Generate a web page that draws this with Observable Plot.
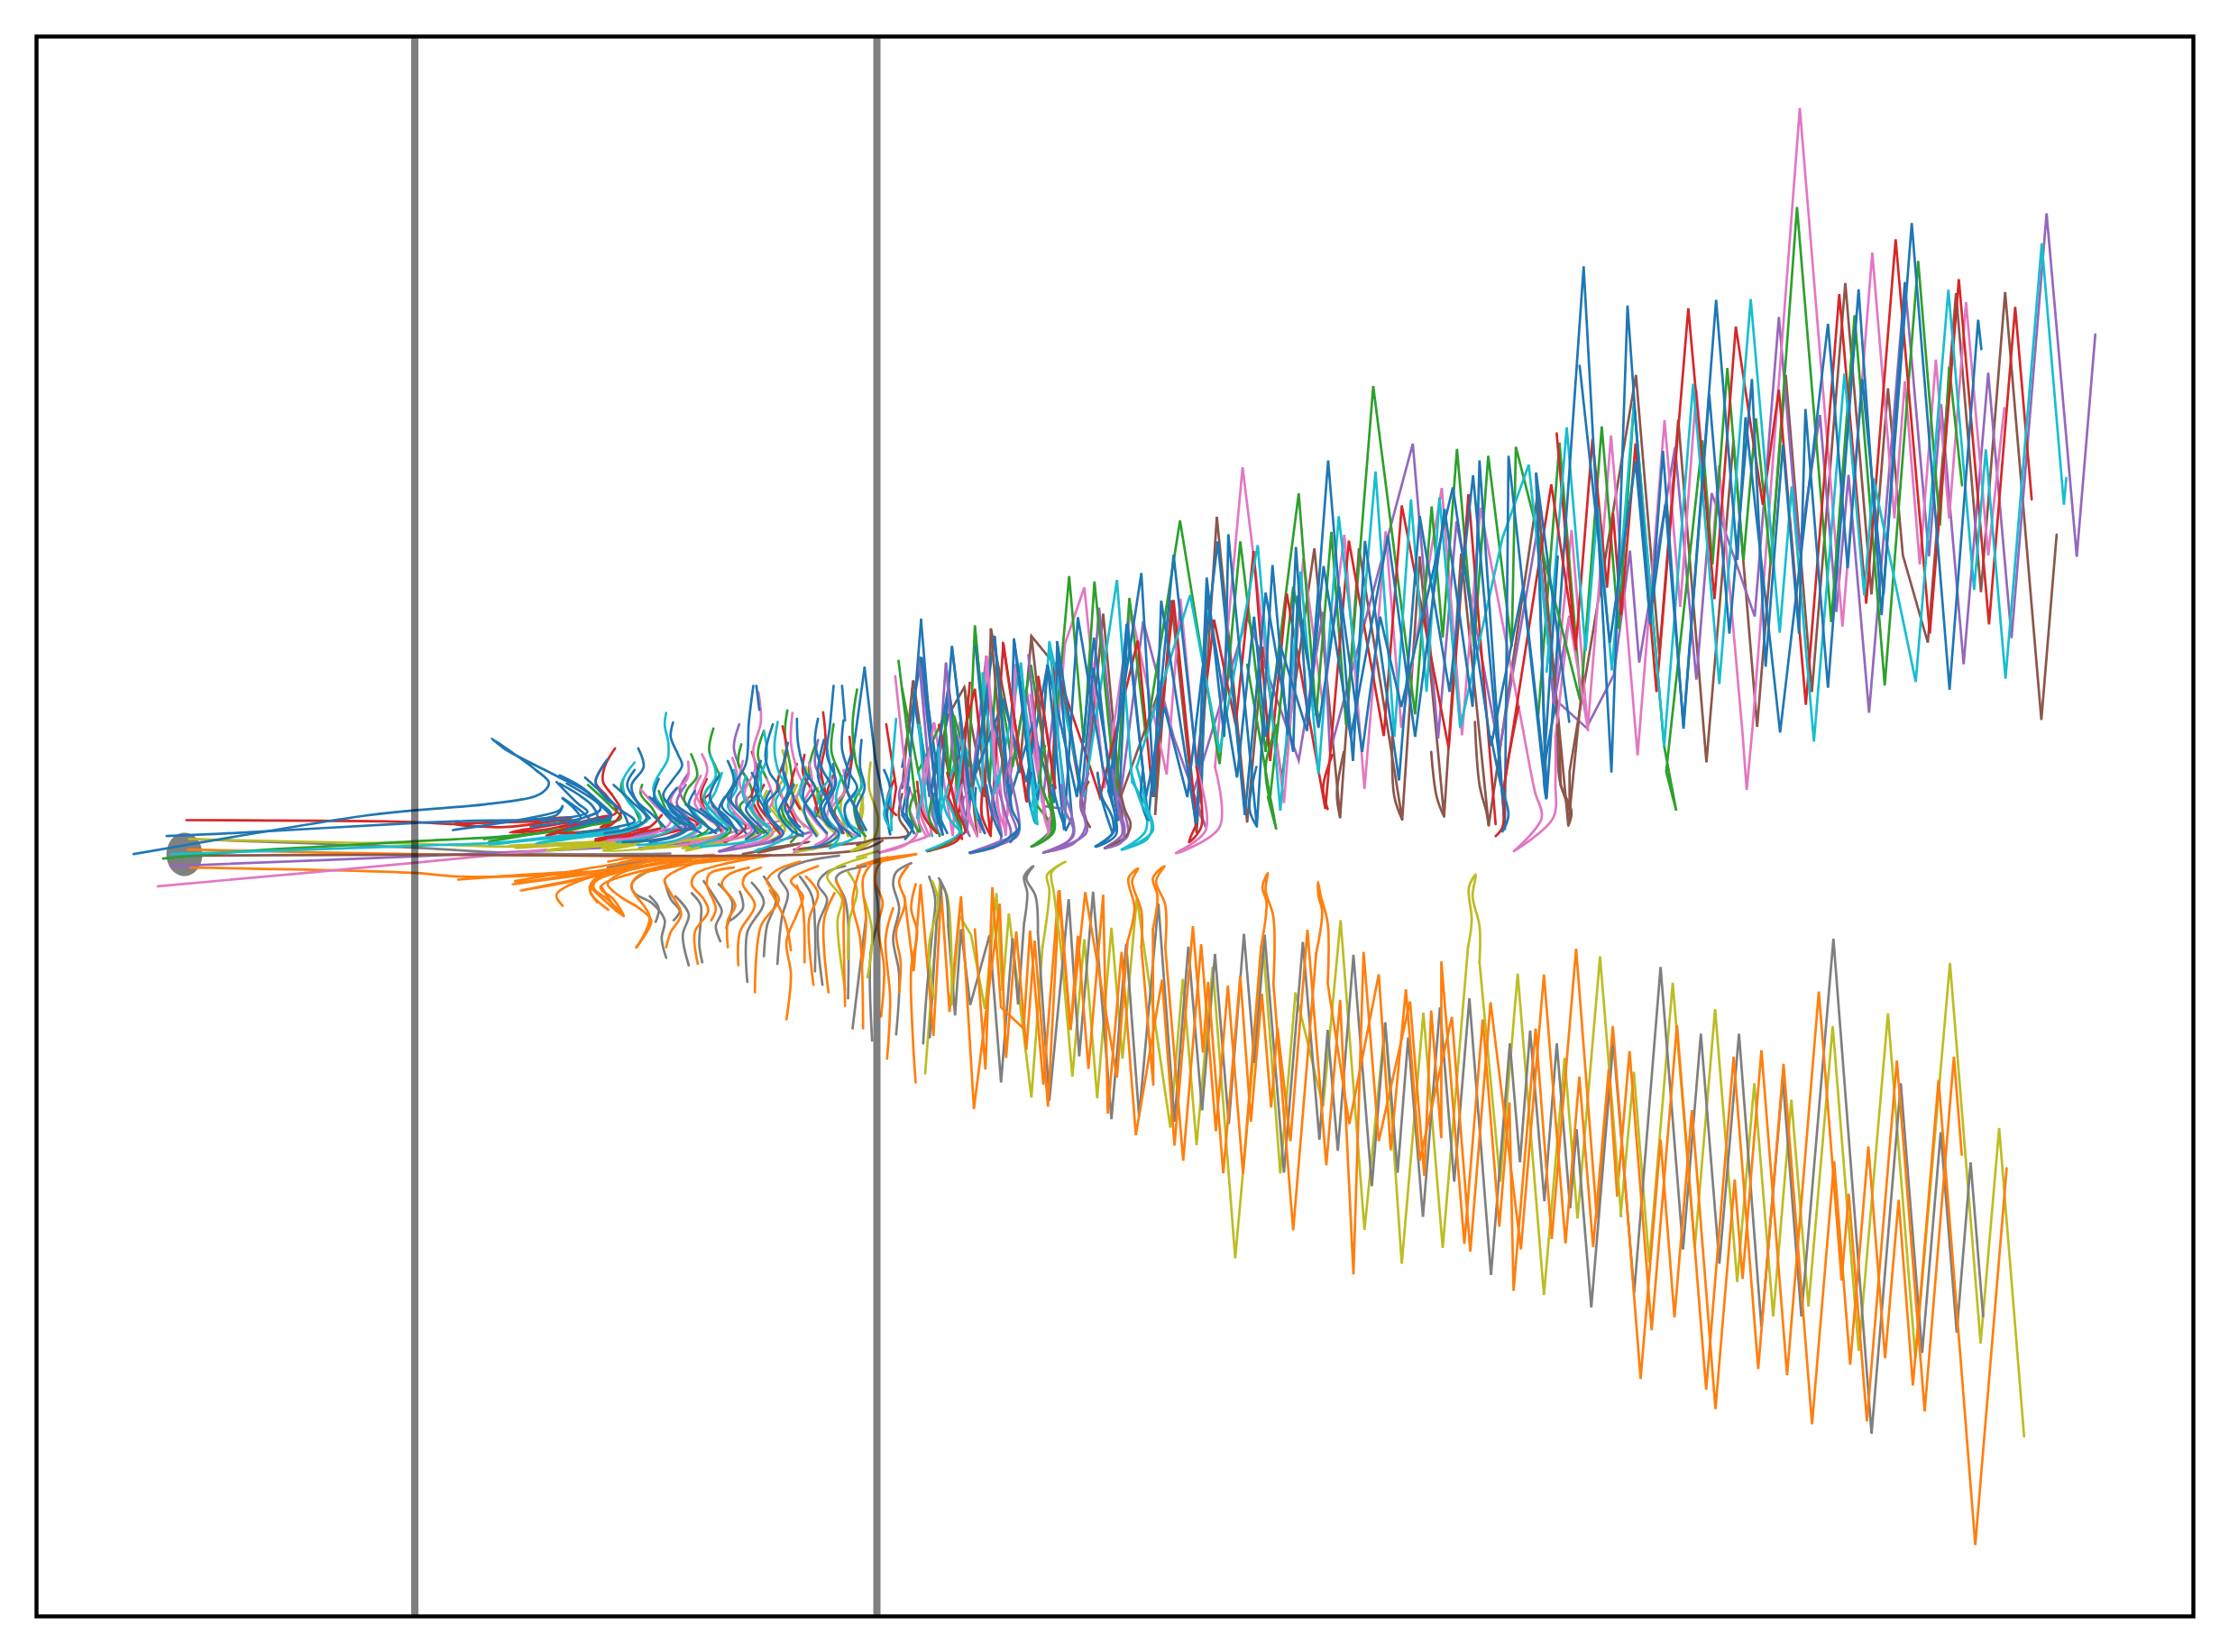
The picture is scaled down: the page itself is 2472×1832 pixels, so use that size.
<!DOCTYPE html>
<html><head><meta charset="utf-8">
<style>html,body{margin:0;padding:0;background:#fff}svg{display:block}</style>
<script src="https://cdn.jsdelivr.net/npm/d3@7"></script>
<script src="https://cdn.jsdelivr.net/npm/@observablehq/plot@0.6"></script>
</head><body><div id="chart"></div>
<script>
// Read-off values: each array holds flat x,y pairs in the units of one reading window.
const windows = {
  a:[100,750,1.742,3], b:[1000,550,1.96,3], c:[1700,100,2.24,1.96], d:[1000,950,1.96,3],
  e:[1700,1000,2.53,2.09], f:[620,760,3,3], g:[620,940,3,3], h:[950,640,3,3],
  i:[950,640,3,3], j:[1000,550,1.96,3], k:[1000,950,1.96,3]
};
const softWindows = new Set(["a","f","g","i","j","k"]);
const dividerValues = [459.5, 972];
const originValue = [[204, 947]];

// far-left tails and nearly flat hairpin bands
const aOlive = [[190,540,500,552,620,555,800,565,1000,555],[810,562,1000,548,820,570,1050,540,880,578,1060,555,990,580,1160,560,1060,572,1230,530,1150,580,1330,500]];
const aGray = [[190,540,620,568,760,582,900,590,1050,590,1120,588],[1000,635,1120,600,1020,622]];
const aOrange = [[188,575,620,590,1050,597,1115,597,1040,603,1000,615],[193,635,620,652,720,665,960,650,1100,610,1240,595,1080,604],[710,675,960,648,815,690,1000,650,830,712,970,665,1090,605,820,680],[912,762,900,725,960,670,1205,592,980,675,965,715,1000,775],[965,700,1030,797,1010,740,985,700,1120,625,1315,592,1060,660,1045,700,1080,800,1055,900]];
const aBrown = [[190,595,620,592,1400,590,1500,570,1530,545],[1260,590,1390,548,1290,585]];
const aPurple = [[155,630,620,598,880,578,1000,568],[1060,570,1160,550],[1215,582,1330,545,1400,512]];
const aPink = [[130,697,620,620,800,590,880,575],[1000,545,1170,490],[1160,550,1330,480]];
const aGreen = [[140,605,300,580,620,548,880,518,1000,470],[760,540,880,515,770,548,1000,480]];
const aCyan = [[155,590,620,563,800,550,1020,505,770,558,1020,515,860,555,1020,510,865,552],[1080,570,1240,500,1090,565]];
const aRed = [[185,477,620,483,700,490,930,468,800,500,700,490,850,482,938,478,810,518,880,508,1000,462,880,528,1005,480,985,500,1003,490],[980,545,1100,505,1000,540]];
const aBlue = [[83,590,530,462,620,445,760,425,860,397,882,370,885,350,860,310,775,205,800,240,900,330,960,385,985,440,950,470,850,498],[147,530,300,518,620,487,720,480,900,460,912,430,905,445,700,510],[900,350,940,420,960,450,870,480],[912,403,950,450,965,475],[920,355,980,420,1005,470,960,490]];

// upper fan, middle stretch
const bBlue = [
 [41,410,78,1090,108,500,150,1010,201,468,232,1040,243,475,295,1010,316,560,352,1110,382,402,436,900],
 [448,980,520,255,548,1000,563,347,640,1100,662,270,700,800,709,126,771,1098,805,228,838,795,856,168,882,760,926,-120,980,880,1006,148,1080,945,1125,65,1190,650,1241,-70,1310,1085],
 [22,640,60,1000,100,640,135,1090,188,660,235,1000,283,760,330,1020,337,482,390,1000,415,570,470,1080,490,420,535,1080,590,195,650,1020,663,330,728,935,765,400,790,800,823,500,880,780,916,232,975,800,1056,130,1115,800,1179,42,1240,700,1255,-120,1310,1110,1318,-135,1400,1005,1378,-78,1450,750],
 [0,900,42,535,85,1010,100,635,140,1000,220,680,270,950,316,560,380,1000,417,470,455,1000,488,425,530,1000,570,700,620,1000,686,150,745,1060,790,320,850,850,860,330,905,770,950,300,1000,850,1039,400,1085,700,1197,-30,1280,830,1350,300,1395,900,1425,200]];
const bPurple = [[38,535,75,1000,95,555,140,1120,183,530,205,950],[235,930,270,640,305,1020,330,700,355,1000],[395,1050,428,370,470,1000],[470,1050,524,415,590,800,660,1100,630,1000,750,400,862,878,915,384,930,850,1110,-175,1165,805,1205,83,1298,850,1381,112,1417,690,1450,400]];
const bPink = [[70,755,110,1130,125,750,170,1120,183,535,225,1130,250,570,320,1120,354,490,396,303,440,970,497,378,575,925,605,340,640,900],[680,900,740,-97,830,1020,872,206,915,700,961,128,1005,973,1051,116,1085,770,1173,-28,1217,795,1257,38,1350,780],[1420,800,1450,400,1491,778]];
const bRed = [[80,760,130,1140],[100,1000,158,640,192,1130,220,487,270,1015,296,600,330,950,330,550,393,830,430,1000,512,480,545,1000,590,345,640,1090],[640,900,678,410,725,760,764,182,800,880,836,323,920,1040,971,147,1047,797,1086,30,1188,838,1231,-7,1290,1090],[1305,1000,1411,-40,1465,510]];
const bGreen = [[0,640,35,915,92,730,103,930,113,730,145,900,158,432,190,950,205,560,240,900,280,560,325,1000],[320,1000,363,265,395,820,418,283,465,1000,494,338,530,800,604,80,690,890,735,150,790,850,862,-10,900,730,933,118,965,760,1024,-367,1115,725,1151,33,1175,470,1206,-158,1243,500,1274,-135,1325,500,1334,-165,1473,675],[750,560,800,1000],[800,1000,850,300,905,735]];
const bBrown = [[25,615,60,1000,100,730,135,635,180,1000,193,440,255,920,281,465,340,575,395,1050,437,390,480,1100,475,1000,565,620,550,1060,585,345,640,1120,684,68,750,1085,785,500,825,940,896,173,952,1068,993,173,1087,1075,1125,200,1178,1065,1215,190,1275,1095,1381,-5,1448,1095,1480,600]];
const bCyan = [[37,760,75,1100,130,800,175,1000,175,585,205,990,258,555,290,1090,320,485,395,1000,467,278,500,950],[510,900,626,328,690,850,773,162,822,1045,866,250,905,925,949,66,990,600,1029,-83,1070,800,1106,10,1140,650,1168,3,1213,770,1305,138,1362,-105,1412,600]];

// upper fan, right end
const cPink = [[50,1340,95,955,135,1388,193,750,259,1445,326,716,365,1122,405,650,443,1025,461,815,520,1400,530,1520,545,1380,662,38,768,1165,842,352,897,930,923,632,960,1030,1000,585,1033,930,1075,460,1130,1010,1170,690]];
const cGreen = [[12,1360,65,765,118,1323,170,730,212,1170,250,680,325,1425,355,1565,330,1480,420,760,445,1030,482,603,522,1020,553,712,590,1030,655,253,740,1155,798,488,873,1293,956,370,1010,945,1033,600,1065,858]];
const cRed = [[58,745,105,1215,147,757,183,1080,198,918,218,1140,254,767,306,1307,385,473,450,1105,503,513,570,900,610,650,677,1335,760,442,827,1115,900,323,985,1180,1057,410,1132,1160,1197,470,1238,888]];
const cBrown = [[10,875,65,1420,68,1510,90,1565,90,1480,255,618,313,1225,360,715,430,1460,497,763,556,1383,627,618,692,1307,775,418,840,1095,881,647,918,1010,980,1200,1050,440,1112,1090,1172,438,1262,1368,1300,965]];
const cCyan = [[33,1263,83,732,130,1218,160,905,195,1260,250,680,325,1425,397,637,462,1290,540,453,612,1178,642,860,697,1415,773,615,822,1097,845,843,950,1285,1031,433,1095,1085,1124,780,1173,1278,1263,332,1318,900,1324,842]];
const cPurple = [[10,955,50,1320,132,1385,200,1270,240,1000,263,1243,352,775,405,1280,443,875,550,1143,610,492,660,1000,712,705,753,1133,783,835,834,1352,923,418,983,1012,1013,682,1069,1247,1130,613,1188,1190,1275,267,1350,1013,1396,530]];
const cBlue = [[7,832,33,1538,125,382,194,1482,234,467,290,1160,322,783,373,1387,437,660,487,1180,543,627,577,1252,620,770,660,1180,676,692,732,1298,808,432,865,1140,940,288,1034,1302,1105,498,1113,562],[115,598,190,1200,254,805,290,1150,328,900,373,1380,454,455,507,1020,527,710,613,1395,732,507,781,1038,817,627,870,1095,923,418]];

// lower fan, middle stretch
const dOlive = [[50,720,82,85],[108,490,125,195,150,260,180,505,205,120,218,445,232,188,281,800,305,300],[345,300,370,730,396,273,424,802,455,235,479,670,510,135,583,900,610,405,640,958,675,365,724,1335,785,300,822,1053,855,450,915,830,953,210,1005,1240,1050,550,1086,1353,1133,518,1175,1300,1230,300],[1255,350,1300,1080,1338,387,1395,1457,1440,668,1468,1203,1517,330,1563,1195]];
const dGray = [[60,600,75,210],[100,230,115,527,128,240,148,492,190,260,215,750,240,270,252,490,265,220],[295,250,320,810,362,140,385,663,415,115,455,872,487,288,515,862,557,155,592,880,622,298,652,843,680,322,710,888,743,255,766,685,788,258,830,1050,871,282,907,940,925,575,947,977,981,325,1021,1095,1050,550,1077,1050,1100,600,1132,1197,1169,500,1200,1080,1233,470,1280,1390,1321,620,1343,1015,1365,577,1396,1145,1423,620,1452,1168,1466,905,1498,1498,1545,630]];
const dOrange = [
 [5,130,25,380,40,90,68,595,85,115,103,515,128,130,156,838,212,155,226,668,248,247,270,640,288,278,317,830,342,110,366,575,382,262,405,705,437,125,447,853,477,315,508,925,565,408,592,960,632,230,654,650,665,415,698,1052,735,395,758,880,782,455,802,833,816,568,844,945,881,242,922,1025,952,475,981,1388,1003,315,1036,945,1104,480,1135,1060,1150,510,1172,935,1172,347,1222,1287,1262,540,1298,1230,1320,816,1329,1443,1377,570,1412,1270,1465,305,1510,1200],
 [158,240,181,706,196,100,215,500,264,570,278,245,307,757,340,112,366,575,398,117,467,733,490,280],[520,300,546,760,545,240],[572,300,611,1010,650,290,682,912,708,428,741,1053,780,300],[807,420,850,1242,900,320],[925,420,972,888,1036,390,1062,975,1095,440,1125,1010,1195,532,1235,1312,1279,483,1345,1305,1395,390,1442,1285,1472,730,1502,1297,1536,705,1554,1125]];

// lower fan, right end
const eOlive = [[245,727,282,393,325,835,391,187,453,800,510,248,572,880,620,420,673,960,724,458,772,937,840,287,913,1040,995,258,1072,1058,1169,141,1255,1023,1307,524,1377,1238]];
const eGray = [[222,300,283,905,357,150,420,805,470,305,522,838,577,305,640,985,700,410,752,960,842,85,949,1232,1031,420,1091,1045,1143,533,1188,998,1227,603,1262,960]];
const eOrange = [[180,730,223,287,301,1105,357,550,396,962,445,482,511,1175,565,643,587,873,640,343,712,1096,801,207,865,877,885,676,936,1203,1020,367,1098,1180,1180,358,1202,585],[235,680,270,345,332,992,403,285,485,1130,562,358,631,1082,702,375,782,1210,844,600,889,1072,940,566,987,1057,1025,690,1065,1120,1137,412,1240,1490,1328,617]];

// upper fan, dense start
const fCyan = [[355,90,350,130,362,190,360,245,325,305,312,345,340,400,395,440,370,480,290,505,190,520],[250,255,210,320,225,380,270,440,210,480,0,510],[726,120,715,210,730,290,750,330,720,380,730,430,775,490,740,515,650,550],[500,230,520,300,480,370,520,430,560,475,530,505,440,535],[890,210,900,300,860,370,890,440,930,500,900,540],[1000,275,1005,340,950,400,965,460,1000,490,900,540],[620,300,610,360,650,430,700,480,660,510,470,535],[540,290,520,350,490,410,540,460],[580,280,590,340,560,400,610,460],[660,260,670,340,640,410,690,470],[680,150,690,240,660,330,700,420],[820,290,800,360,850,430],[940,300,920,380,960,470],[300,440,240,480,100,500],[430,400,470,460,400,510,260,530]];
const fPink = [[474,228,492,280,470,340,450,390,490,440,545,480,510,510,400,530],[428,252,425,310,385,350,370,385,420,440,460,480,410,510,320,525],[662,22,670,120,645,210,650,280,620,340,615,380,665,440,710,490,690,510,590,535],[775,90,770,190,790,280,810,340,770,390,790,440,840,490,810,520,780,555],[270,345,320,400,370,450,320,490,160,515],[575,240,590,300,560,380,600,440,640,480,600,505,480,520],[830,255,840,330,815,390,850,450,890,500,850,530],[945,280,950,350,905,410,945,470,985,500],[690,310,710,380,690,430,740,490,720,520],[610,250,600,330,640,400,670,470],[520,310,500,380,540,440,590,490,540,515],[900,290,910,370,890,440,930,480],[470,300,450,350,480,410,530,470],[730,330,750,400,780,470]];
const fPurple = [[598,128,580,205,600,270,625,320,590,370,590,400,635,450,670,490,640,510,535,550],[430,290,400,350,440,420,470,470,360,480,160,515],[860,180,850,260,880,340,850,420,920,480,850,540],[740,490,720,510,530,550],[620,380,660,440,700,470],[420,330,390,390,430,440]];
const fGreen = [[512,142,498,215,522,275,532,300,490,345,480,380,520,430,570,480,540,505,430,530],[438,228,458,300,425,345,415,380,455,430,495,475,460,500],[605,195,595,260,630,320,640,360,600,400,640,460,680,490],[275,330,270,360,310,410,340,470],[212,310,205,345,250,410,270,455],[758,82,750,160,770,280,775,340,740,400,750,440,790,490,770,520],[912,128,905,220,935,300,950,350,915,420,945,470,975,505],[990,12,975,130,985,250,1005,330,980,390,995,470,1018,500],[95,330,170,400,205,440,100,465,0,490],[330,350,360,420,400,460],[680,150,660,230,690,310],[850,200,830,290,870,380,850,440]];
const fRed = [[185,208,150,270,145,320,180,370,205,420,160,470,0,490],[742,135,755,220,730,300,725,340,760,400,790,460],[877,88,885,190,870,280,890,370,920,440,945,490],[160,245,120,320,160,370,190,420,0,470],[120,515,300,470],[350,510,450,470],[500,360,470,395,510,450,540,490,480,520],[640,220,660,300,640,370,680,450],[815,230,810,290,840,350,860,420],[965,170,970,260,950,330,990,420,1000,480],[290,450,240,480,120,510],[490,310,470,370,500,440],[430,440,460,460,360,490,240,520],[580,420,620,470,550,520],[680,330,660,390,700,450,740,500],[910,300,890,370,930,450],[790,260,770,340,800,410],[340,430,300,470,200,510]];
const fOlive = [[742,215,755,290,720,350,710,400,750,450,720,480,650,530],[690,350,680,380,720,430,750,480,700,515],[790,330,770,390,780,420,815,470],[820,270,820,310,790,370,830,450,860,495],[140,540,300,515,150,530],[270,545,440,510,290,535],[410,540,560,520,420,530],[780,555,960,520,790,545],[860,340,855,400,885,460,920,500,840,545],[1010,370,1000,440,1015,520,970,550,1020,530],[880,340,870,400,905,470],[610,350,640,420,670,470,600,530],[950,340,935,410,960,500],[530,520,420,545,560,510]];
const fBrown = [[650,550,830,520,660,545],[780,545,1020,520,900,532]];
const fBlue = [[0,298,70,335,130,385,172,430,120,450,20,480],[0,325,60,360,110,400,125,440,60,455],[10,375,50,410,70,440,30,460],[85,305,140,355,200,410,250,450,190,470,60,490],[180,330,240,385,290,440,250,470,150,490],[160,245,120,320,150,370,210,420,230,465],[262,208,280,270,240,330,255,380,310,430,350,470],[250,280,225,330,260,390,300,440],[378,122,370,170,395,230,408,265,375,315,345,365,385,420,435,465,400,495,300,520],[645,0,630,120,620,260,580,330,560,370,610,430,650,480,620,510],[655,0,665,80],[710,128,685,230,700,290,730,340,690,390,700,440,745,490,710,515],[790,110,795,200,820,290,850,340,815,400,820,440,855,500],[860,110,850,190,875,280,905,340,870,400,890,460,930,490,900,520,830,540],[912,0,900,130,890,230,920,320,895,390,920,450,965,490],[945,115,940,210,965,290,990,340,950,400,960,460,1000,500],[940,0,950,115],[1005,180,1000,270,1015,340,985,420,1010,480],[310,375,370,430,420,470,380,500,210,520],[420,395,480,430,530,470,500,490],[510,400,560,440,590,490],[560,250,580,320,540,400,590,450,620,490],[640,290,660,350,620,410,660,460,690,490],[740,270,760,350,730,420,770,480,810,500],[910,260,915,340,880,410,905,470],[330,310,315,370,355,430,410,480],[390,340,360,390,410,450,470,490],[450,350,430,400,470,450,520,490],[530,300,500,370,540,430,590,480],[590,320,570,380,620,440,660,490],[670,250,650,340,690,420,730,480],[760,190,745,290,780,380,760,430,810,490],[830,300,810,370,850,440,890,490],[880,180,860,300,900,400,940,490],[970,230,950,320,990,420,1020,480],[300,370,350,420,410,460],[350,380,400,420,450,470],[390,400,450,440,510,480],[470,410,520,450,560,480],[550,370,530,420,580,470],[700,350,680,410,730,470],[780,330,750,410,800,470]];

// lower fan, dense start
const gOrange = [[510,22,350,45,200,85,160,120,200,160,265,200,305,240,290,280,255,330],[370,30,190,70,120,105,115,135,160,170,200,210,213,225],[300,40,150,80,100,130,125,180],[290,30,200,48,290,35],[140,130,190,210],[575,25,450,50,350,105,370,150,405,220,370,280,355,330],[700,25,560,50,455,85,440,120,480,170,495,210,450,280,460,385],[580,65,500,85,490,120,520,200,505,240],[630,65,560,90,540,120,585,190,560,240,560,330],[670,65,620,90,610,120,650,190,600,280,595,390],[800,45,720,75,690,110,730,170,670,260,650,480],[860,60,790,90,770,110,810,160,790,220,755,310,770,420,755,570],[820,95,860,150,830,240,845,455],[915,150,880,240,895,480],[920,110,945,170,945,260,950,525],[1000,70,975,180,1000,300,1010,600],[700,140,750,240,770,340],[790,125,810,200,815,380],[1090,30,1060,60,1050,110,1075,180,1060,260,1080,400,1070,560],[1160,60,1130,110,1150,180,1120,280,1135,380,1130,480],[1185,120,1170,200,1190,280,1170,400,1175,620,1185,780],[1110,200,1085,300,1100,500,1090,700],[1040,50,1010,100,1020,240,1005,400]];
const gGray = [[380,30,160,65],[440,35,280,85,240,120,250,150,310,185,350,240,340,300,355,365],[300,160,330,200,320,245],[350,110,370,170,400,210,380,240],[440,150,470,190,470,240,465,320,475,380],[385,160,430,220,410,290,430,390],[480,110,520,170,540,210,520,260,535,310],[530,120,575,180,555,265],[600,145,610,200,570,240],[640,115,680,180,625,280,625,445],[930,25,800,50,730,90,760,150,740,230,725,385],[680,95,720,170,690,260,680,360],[800,95,840,160,850,260,850,410],[950,60,890,80,860,120,890,170,860,260,875,455],[1020,60,940,80,920,100,950,170,960,240,960,500],[1020,230,975,600],[1170,50,1120,80,1110,120,1130,200,1110,300,1130,420,1120,620],[1230,95,1250,170,1240,280,1220,500,1210,650],[1050,120,1060,230,1035,350,1040,640]];
const gOlive = [[1020,30,920,65,890,95,940,170,925,240,950,470],[960,80,990,140,965,240,960,370],[1240,110,1260,180,1230,320,1245,500],[1015,170,1040,280,1025,430]];

// dense start of the upper fan just past the second divider
const hPink = [[127,328,165,680,240,860],[255,485,215,760],[345,480,370,800,400,860],[432,265,465,720,480,860],[528,290,500,790],[577,390,620,760,640,860]];
const hGreen = [[138,277,190,700,210,845],[290,460,305,655],[322,460,330,680,360,840],[392,162,440,680],[600,760,655,830]];
const hBrown = [[186,345,150,700],[358,368,390,780,400,860],[445,172,490,690],[580,195,640,720,655,830]];
const hPurple = [[207,285,240,650,250,790,275,860],[296,285,320,600,355,800,370,850],[570,258,620,760,690,770]];
const hCyan = [[130,470,110,700,115,840],[270,565,280,800],[355,540,325,800],[545,285,600,820],[640,215,695,800],[205,490,230,760,250,860]];
const hRed = [[97,488,130,700,115,800],[375,350,340,780],[485,217,565,745],[603,330,660,700]];
const hBlue = [[25,300,60,600,110,855],[25,300,-30,700],[213,142,170,680,150,790,190,850],[215,268,260,700,285,855],[316,230,370,700,425,850],[394,230,440,680,480,860],[458,197,510,760],[522,205,575,650,570,720],[665,215,715,800,695,840]];
const hOlive = [[0,930,70,910]];
const hOrange = [[0,960,200,920,80,935,0,960]];

// S-shaped lower ends of the upper fan (smooth hairpins)
const iBlue = [[110,850,100,790,110,700,90,640],[190,850,165,790,175,700],[285,855,265,790,245,690],[425,850,395,780,395,700],[480,860,450,790,430,690],[510,880,540,830,515,770,510,690],[375,915,470,890,540,835],[695,840,670,770,650,690],[850,850,815,740,800,650],[965,805,945,740,950,650],[795,895,850,850,850,800,815,730,800,650],[160,870,185,830,150,780],[590,810,570,720,580,650],[300,850,270,780,260,700]];
const iCyan = [[115,840,90,790,115,700],[350,850,300,790,280,700],[230,908,340,850,325,800,300,740],[600,820,580,770,605,690],[880,905,965,870,980,820,945,750,910,640],[200,800,215,720,205,650],[400,800,380,700],[455,720,470,660]];
const iPink = [[75,915,180,880,245,850,225,780,215,720,230,600],[75,915,160,890,200,850,170,760,160,700,175,600],[360,800,340,740,350,690],[400,860,375,790,365,720],[490,830,465,750,470,700],[640,850,620,780,625,720],[230,860,200,790,215,720],[580,895,630,865,640,800]];
const iPurple = [[375,915,470,880,530,850,510,780,490,700,510,600],[375,915,470,890,480,850,450,760,460,680],[620,915,700,880,720,840,690,770,680,690],[620,915,720,885,760,830,745,750,770,650],[825,900,880,880,890,830,870,770,850,640],[375,860,350,800,355,730],[150,780,140,720,160,660]];
const iGreen = [[580,895,640,860,655,810,635,750,610,680,625,560],[205,845,175,780,195,710],[275,855,240,800,255,720],[240,910,345,850,330,780]];
const iRed = [[235,910,340,860,360,845,335,780,300,650],[445,860,415,790,420,700],[265,850,220,790,200,680],[130,790,100,750,125,670]];
const iBrown = [[825,900,895,860,910,820,890,770,870,680],[775,830,745,770,745,730,770,680],[0,890,60,870,170,855,140,800,150,720]];
const iOlive = [[0,905,55,870,70,800,40,700,45,615],[0,850,20,760,0,700]];

const jPink = [[1330,1180,1390,1070,1375,980,1350,780],[1330,1180,1415,1070,1420,950,1420,800],[640,900,660,1110,595,1187,690,1100,680,900]];
const jBrown = [[1448,1095,1455,1050,1430,950,1425,760],[1275,1095,1270,1050,1255,960,1245,750],[1178,1065,1162,1000,1150,850],[1087,1075,1070,1000,1065,800],[952,1068,945,990,960,850]];
const jRed = [[1290,1130,1305,1100,1310,950,1340,700],[925,1040,915,970,935,860],[55,1180,125,1135,100,1000],[640,1090,623,1150,650,1100,640,900]];
const jBlue = [[436,900,462,1110,420,1165,465,1125,448,980],[1305,1115,1318,1060,1300,950,1280,800],[1400,1005,1395,930,1420,700],[771,1098,755,1040,770,900]];
const jGreen = [[813,1105,800,1020,790,900,815,760],[325,1000,322,1110,282,1165,330,1115,320,1000],[800,1000,813,1105,795,1000]];
const jPurple = [[205,950,225,1060,235,1130,148,1188,250,1130,255,1090,235,930],[355,1000,372,1130,308,1185,400,1120,395,1050],[470,1000,490,1130,440,1170,478,1125,470,1050]];
const jCyan = [[500,950,545,1110,478,1175,530,1110,510,900]];

const kOlive = [[82,85,98,130,108,490],[305,300,320,110,315,60,355,15,325,50,330,120,345,300],[1230,300,1238,210,1232,100,1247,58,1240,130,1255,230,1255,350]];
const kGray = [[75,210,85,90,80,70,95,120,100,230],[265,220,272,120,265,65,285,30,270,70,290,130,295,250]];
const kOrange = [[490,280,505,170,492,70,513,38,500,80,520,180,520,300],[545,240,555,130,545,70,570,30,552,80,572,160,572,300],[780,300,792,150,783,100,795,53,790,110,807,200,807,420],[900,320,913,180,905,130,904,83,910,130,925,220,925,420]];

const tableau = {blue:"#1f77b4",orange:"#ff7f0e",green:"#2ca02c",red:"#d62728",purple:"#9467bd",brown:"#8c564b",pink:"#e377c2",gray:"#7f7f7f",olive:"#bcbd22",cyan:"#17becf"};
const drawOrder = [
 ["e",eOlive,"olive"],["e",eGray,"gray"],["e",eOrange,"orange"],
 ["d",dOlive,"olive"],["d",dGray,"gray"],["d",dOrange,"orange"],
 ["k",kOlive,"olive"],["k",kGray,"gray"],["k",kOrange,"orange"],
 ["g",gGray,"gray"],["g",gOlive,"olive"],["g",gOrange,"orange"],
 ["a",aGray,"gray"],["a",aOrange,"orange"],["a",aPurple,"purple"],["a",aPink,"pink"],["a",aBrown,"brown"],["a",aOlive,"olive"],["a",aGreen,"green"],["a",aCyan,"cyan"],["a",aRed,"red"],["a",aBlue,"blue"],
 ["c",cBrown,"brown"],["c",cPurple,"purple"],["c",cPink,"pink"],["c",cGreen,"green"],["c",cRed,"red"],["c",cCyan,"cyan"],["c",cBlue,"blue"],
 ["b",bBrown,"brown"],["b",bPurple,"purple"],["b",bPink,"pink"],["b",bGreen,"green"],["b",bRed,"red"],["b",bCyan,"cyan"],["b",bBlue,"blue"],
 ["h",hOrange,"orange"],["h",hOlive,"olive"],["h",hBrown,"brown"],["h",hPurple,"purple"],["h",hPink,"pink"],["h",hGreen,"green"],["h",hRed,"red"],["h",hBlue,"blue"],["h",hCyan,"cyan"],
 ["j",jBrown,"brown"],["j",jPurple,"purple"],["j",jPink,"pink"],["j",jGreen,"green"],["j",jRed,"red"],["j",jCyan,"cyan"],["j",jBlue,"blue"],
 ["i",iOlive,"olive"],["i",iBrown,"brown"],["i",iPurple,"purple"],["i",iPink,"pink"],["i",iGreen,"green"],["i",iRed,"red"],["i",iBlue,"blue"],["i",iCyan,"cyan"],
 ["f",fOlive,"olive"],["f",fBrown,"brown"],["f",fPurple,"purple"],["f",fGreen,"green"],["f",fRed,"red"],["f",fPink,"pink"],["f",fCyan,"cyan"],["f",fBlue,"blue"]
];

const rows = [];
let strandId = 0;
for (const [w, strands, name] of drawOrder) {
  const [ox, oy, sx, sy] = windows[w];
  for (const s of strands) {
    strandId++;
    for (let i = 0; i < s.length; i += 2) rows.push({id: strandId, soft: softWindows.has(w), x: ox + s[i] / sx, y: oy + s[i + 1] / sy, c: tableau[name]});
  }
}
const ellipseSymbol = {draw(ctx, size) {
  const rx = Math.sqrt(size / Math.PI) * 0.83, ry = Math.sqrt(size / Math.PI), k = 0.5523;
  ctx.moveTo(-rx, 0);
  ctx.bezierCurveTo(-rx, -k * ry, -k * rx, -ry, 0, -ry);
  ctx.bezierCurveTo(k * rx, -ry, rx, -k * ry, rx, 0);
  ctx.bezierCurveTo(rx, k * ry, k * rx, ry, 0, ry);
  ctx.bezierCurveTo(-k * rx, ry, -rx, k * ry, -rx, 0);
  ctx.closePath();
}};
const chart = Plot.plot({
  width: 2472, height: 1832, marginLeft: 40, marginRight: 40, marginTop: 40, marginBottom: 40,
  x: {domain: [40, 2432], axis: null},
  y: {domain: [1792, 40], axis: null},
  color: {type: "identity"},
  style: {background: "#fff"},
  marks: [
    Plot.dot(originValue, {x: d => d[0], y: d => d[1], r: 24, fill: "#808080", stroke: "none", symbol: ellipseSymbol}),
    Plot.line(rows.filter(d => !d.soft), {x: "x", y: "y", z: "id", stroke: "c", strokeWidth: 2.7, strokeLinejoin: "miter", strokeMiterlimit: 4, curve: "linear"}),
    Plot.line(rows.filter(d => d.soft), {x: "x", y: "y", z: "id", stroke: "c", strokeWidth: 2.7, curve: "catmull-rom"}),
    Plot.ruleX(dividerValues, {stroke: "#000", strokeOpacity: 0.5, strokeWidth: 8}),
    Plot.frame({stroke: "#000", strokeWidth: 4.4, fill: "none"})
  ]
});
document.getElementById("chart").appendChild(chart);
</script></body></html>
